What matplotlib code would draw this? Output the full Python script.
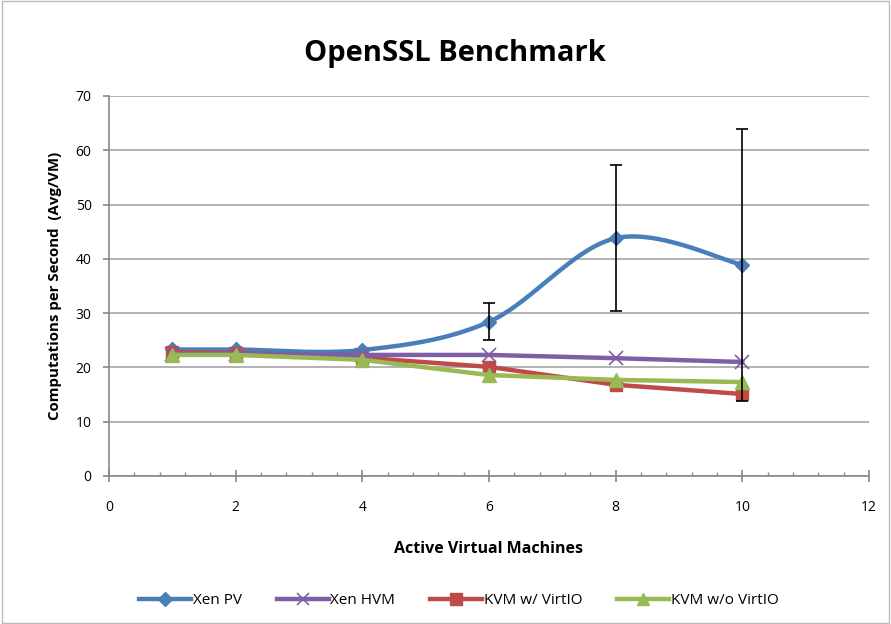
import numpy as np
import matplotlib
matplotlib.use("Agg")
import matplotlib.pyplot as plt
from matplotlib.lines import Line2D
from matplotlib.ticker import MultipleLocator

vms = [1, 2, 4, 6, 8, 10]
xen_pv = [23.3, 23.3, 23.2, 28.4, 43.8, 38.9]
xen_pv_err = [0.0, 0.0, 0.0, 3.4, 13.4, 25.0]
xen_hvm = [22.5, 22.5, 22.3, 22.3, 21.7, 21.0]
kvm_virtio = [22.8, 22.7, 21.8, 20.1, 16.8, 15.1]
kvm_novirtio = [22.3, 22.3, 21.4, 18.6, 17.7, 17.3]
series_names = ["Xen PV", "Xen HVM", "KVM w/ VirtIO", "KVM w/o VirtIO"]

plt.rcParams['font.family'] = ['Open Sans', 'DejaVu Sans']

def smooth(x, y, n=30):
    # Catmull-Rom style smoothing (like spreadsheet "smoothed line")
    x = np.asarray(x, float); y = np.asarray(y, float)
    P = np.column_stack([x, y])
    out = []
    for i in range(len(P) - 1):
        p0 = P[i - 1] if i > 0 else P[i]
        p1 = P[i]; p2 = P[i + 1]
        p3 = P[i + 2] if i + 2 < len(P) else P[i + 1]
        c1 = p1 + (p2 - p0) / 6.0
        c2 = p2 - (p3 - p1) / 6.0
        t = np.linspace(0, 1, n)[:, None]
        seg = ((1 - t) ** 3) * p1 + 3 * ((1 - t) ** 2) * t * c1 + 3 * (1 - t) * t ** 2 * c2 + t ** 3 * p2
        out.append(seg if i == 0 else seg[1:])
    s = np.vstack(out)
    return s[:, 0], s[:, 1]

fig = plt.figure(figsize=(8.91, 6.24), dpi=100)
ax = fig.add_axes([0.1223, 0.2372, 0.8530, 0.6090])

c_pv = '#4a7ebb'
c_hvm = '#7e5ea6'
c_kvm = '#be4b48'
c_kvm2 = '#98b954'

ax.plot(vms, kvm_virtio, color=c_kvm, lw=3.2, marker='s', ms=9, zorder=3)
ax.plot(vms, kvm_novirtio, color=c_kvm2, lw=3.2, marker='^', ms=10, zorder=4)
ax.plot(vms, xen_hvm, color=c_hvm, lw=3.2, marker='x', ms=10, mew=1.2, zorder=3)
sx, sy = smooth(vms, xen_pv)
ax.plot(sx, sy, color=c_pv, lw=3.2, zorder=2)
ax.plot(vms, xen_pv, ls='none', color=c_pv, marker='D', ms=7.5, zorder=2)
idx = [i for i, e in enumerate(xen_pv_err) if e > 0]
ax.errorbar([vms[i] for i in idx], [xen_pv[i] for i in idx], yerr=[xen_pv_err[i] for i in idx],
            fmt='none', ecolor='black', elinewidth=1.2, capsize=4, capthick=1.2, zorder=5)

ax.set_xlim(0, 12)
ax.set_ylim(0, 70)
ax.set_xticks(range(0, 13, 2))
ax.set_yticks(range(0, 71, 10))
ax.xaxis.set_minor_locator(MultipleLocator(0.4))
ax.yaxis.grid(True, color='#a6a6a6', lw=1.2)
ax.set_axisbelow(True)
for s in ['top', 'right']:
    ax.spines[s].set_visible(False)
for s in ['left', 'bottom']:
    ax.spines[s].set_color('#888888')
    ax.spines[s].set_linewidth(1.2)
ax.tick_params(axis='y', which='major', direction='out', length=4.5, width=1.2, color='#888888', labelsize=10, pad=8)
ax.tick_params(axis='x', which='major', direction='inout', length=8.6, width=1.2, color='#888888', labelsize=10, pad=13)
ax.tick_params(axis='x', which='minor', direction='in', length=3, width=1, color='#888888')

ax.set_xlabel('Active Virtual Machines', fontsize=11.5, fontweight='bold', labelpad=19)
ax.set_ylabel('Computations per Second  (Avg/VM)', fontsize=10.8, fontweight='bold', labelpad=10)
fig.text(0.511, 0.915, 'OpenSSL Benchmark', ha='center', va='center', fontsize=21, fontweight='bold')

handles = [
    Line2D([], [], color=c_pv, lw=3.2, marker='D', ms=7),
    Line2D([], [], color=c_hvm, lw=3.2, marker='x', ms=9, mew=1.2),
    Line2D([], [], color=c_kvm, lw=3.2, marker='s', ms=8),
    Line2D([], [], color=c_kvm2, lw=3.2, marker='^', ms=9),
]
fig.legend(handles, series_names, loc='center', bbox_to_anchor=(0.515, 0.037), ncol=4,
           frameon=False, fontsize=11, handlelength=3.4, handletextpad=0.1, columnspacing=2.3)

fig.patches.append(plt.Rectangle((0.002, 0.002), 0.996, 0.996, transform=fig.transFigure,
                                 fill=False, edgecolor='#bbbbbb', lw=1))
fig.savefig('out.png', dpi=100)
